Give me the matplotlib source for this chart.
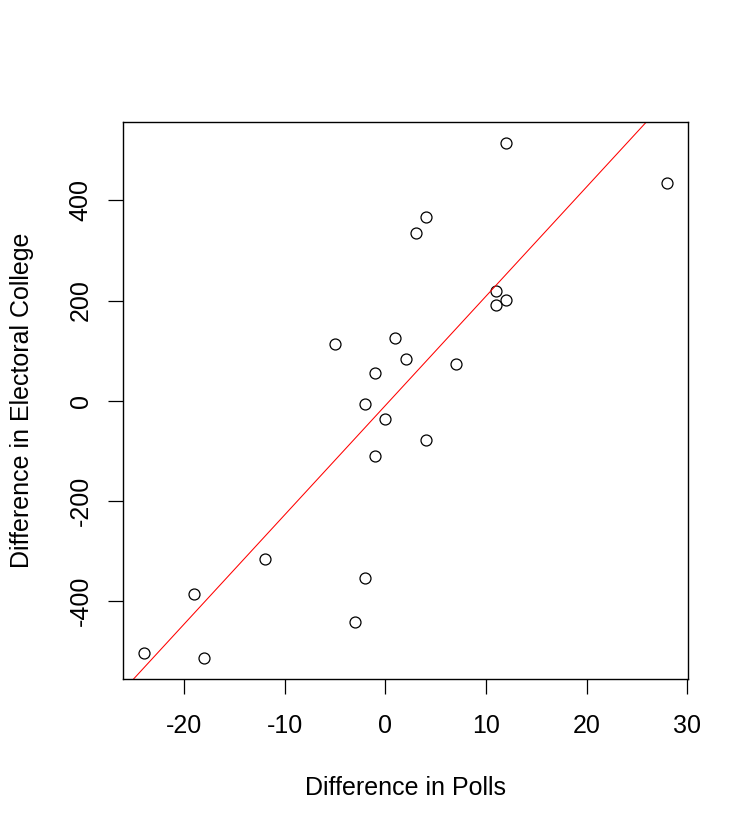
import numpy as np
import matplotlib
matplotlib.use("Agg")
import matplotlib.pyplot as plt

# differences
poll_diff = [-24, -19, -18, -12, -5, -3, -2, -2, -1, -1, 0, 1, 2, 3, 4, 4, 7, 11, 11, 12, 12, 28]
ec_diff = [-504, -386, -514, -316, 113, -442, -6, -354, 56, -110, -36, 125, 83, 334, 367, -78, 74, 219, 192, 201, 515, 434]

x_ticks = [-20, -10, 0, 10, 20, 30]
y_ticks = [-400, -200, 0, 200, 400]

plt.rcParams['font.family'] = ['Liberation Sans', 'DejaVu Sans']
plt.rcParams['axes.unicode_minus'] = False
FS = 18

fig = plt.figure(figsize=(7.5, 8.32), dpi=100)
ax = fig.add_axes([123 / 750, 1 - 679 / 832, 565 / 750, 557 / 832])

x = np.array(poll_diff, dtype=float)
y = np.array(ec_diff, dtype=float)

ax.plot(x, y, 'o', mfc='none', mec='black', ms=7.9, mew=0.9)
ax.margins(x=0.04, y=0.04)
ax.autoscale_view()

# least squares line, like abline(lm(...))
slope, intercept = np.polyfit(x, y, 1)
ax.axline((0, intercept), slope=slope, color='red', lw=0.75)

ax.set_xticks(x_ticks)
ax.set_yticks(y_ticks)
ax.tick_params(axis='both', direction='out', length=10.8, width=0.9,
               labelsize=FS, color='black')
ax.tick_params(axis='x', pad=14.5)
ax.tick_params(axis='y', pad=11)
for lbl in ax.get_yticklabels():
    lbl.set_rotation(90)
    lbl.set_va('center')

for s in ax.spines.values():
    s.set_linewidth(1.0)

ax.set_xlabel('Difference in Polls', fontsize=FS)
ax.set_ylabel('Difference in Electoral College', fontsize=FS)
ax.xaxis.set_label_coords(0.5, -0.174)
ax.yaxis.set_label_coords(-0.1575, 0.5)

fig.savefig('out.png', dpi=100)
